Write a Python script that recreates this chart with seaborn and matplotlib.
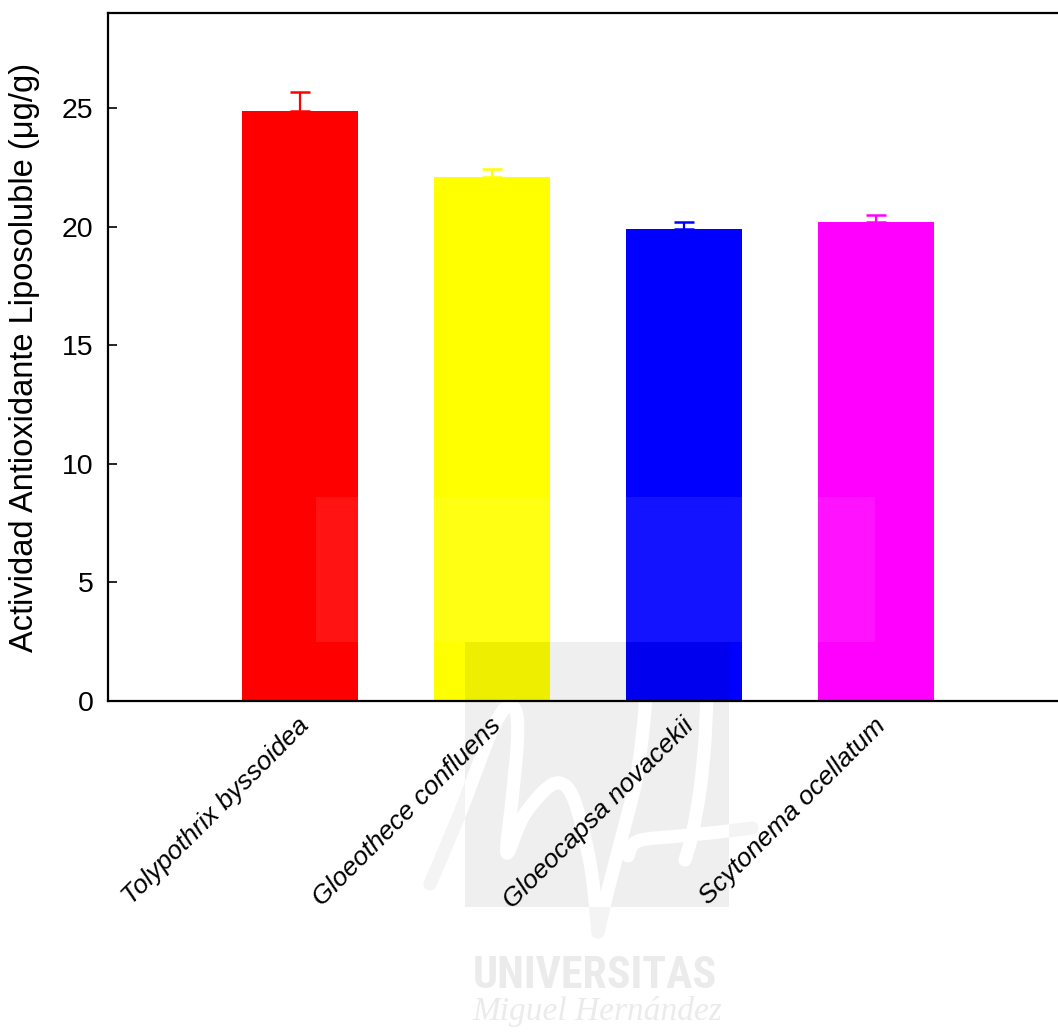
import numpy as np
import pandas as pd
import matplotlib
matplotlib.use("Agg")
import matplotlib.pyplot as plt
import matplotlib.transforms as mtransforms
from matplotlib.patches import Rectangle, PathPatch
from matplotlib.path import Path
from matplotlib import font_manager
import seaborn as sns

# Datos: actividad antioxidante liposoluble por especie (media y error superior)
especies = ["Tolypothrix byssoidea", "Gloeothece confluens",
            "Gloeocapsa novacekii", "Scytonema ocellatum"]
actividad = [24.87, 22.10, 19.88, 20.21]
error_sup = [0.80, 0.33, 0.29, 0.27]
colores = ["#ff0000", "#ffff00", "#0000ff", "#ff00ff"]
marcas_y = [0, 5, 10, 15, 20, 25]
titulo_y = "Actividad Antioxidante Liposoluble (\u03bcg/g)"

W, H = 1058, 1032

sns.set_theme(style="ticks")
plt.rcParams["font.family"] = ["Liberation Sans", "DejaVu Sans"]

fig = plt.figure(figsize=(W / 100, H / 100), dpi=100)
fig.patch.set_facecolor("white")
ax = fig.add_axes([108 / W, 1 - 701 / H, 960 / W, 688 / H])

df = pd.DataFrame({"especie": especies, "actividad": actividad})
sns.barplot(data=df, x="especie", y="actividad", hue="especie",
            palette=colores, width=0.6, saturation=1, legend=False,
            errorbar=None, linewidth=0, ax=ax)
barras = list(ax.patches)

# Barras de error (solo la parte superior)
for barra, valor, err, col in zip(barras, actividad, error_sup, colores):
    xc = barra.get_x() + barra.get_width() / 2
    ax.errorbar([xc], [valor], yerr=[[0], [err]], fmt="none", ecolor=col,
                elinewidth=1.6, capsize=7, capthick=1.8, zorder=3)

ax.set_xlim(-1, 4)
ax.set_ylim(0, 29)
ax.set_yticks(marcas_y)
ax.set_xlabel("")
ax.set_ylabel(titulo_y, fontsize=23.5, color="black")
ax.yaxis.set_label_coords(-0.071, 0.5)

ax.tick_params(axis="y", direction="in", length=6.5, width=1.2,
               labelsize=20.5, pad=10.5, colors="black")
ax.tick_params(axis="x", length=0, pad=9)
ax.set_xticks(range(len(especies)))
ax.set_xticklabels(especies, rotation=45, ha="right", rotation_mode="anchor",
                   fontstyle="italic", fontsize=19, color="black")
desplaz = mtransforms.ScaledTranslation(-3 / 100, 0, fig.dpi_scale_trans)
for et in ax.get_xticklabels():
    et.set_transform(et.get_transform() + desplaz)

for lado in ["left", "bottom", "top"]:
    ax.spines[lado].set_linewidth(1.6)
    ax.spines[lado].set_color("black")
ax.spines["right"].set_visible(False)

# Marca de agua institucional (coordenadas en píxeles de la figura)
px = mtransforms.Affine2D().scale(1 / W, -1 / H).translate(0, 1) + fig.transFigure

aclarado = Rectangle((316, 497), 559, 145, transform=px, facecolor="white",
                     alpha=0.08, edgecolor="none", zorder=1.5, clip_on=False)
ax.add_patch(aclarado)

fondo_logo = Rectangle((465, 642), 264, 265, transform=px, facecolor="#efefef",
                       edgecolor="none", zorder=0.3, clip_on=False)
ax.add_patch(fondo_logo)

for barra in barras:
    sombra = Rectangle((465, 642), 264, 265, transform=px, facecolor="black",
                       alpha=0.065, edgecolor="none", zorder=1.2)
    ax.add_patch(sombra)
    sombra.set_clip_path(barra)


def trazo_suave(puntos):
    p = np.asarray(puntos, dtype=float)
    p = np.vstack([p[0], p, p[-1]])
    verts = [tuple(p[1])]
    codes = [Path.MOVETO]
    for i in range(1, len(p) - 2):
        c1 = p[i] + (p[i + 1] - p[i - 1]) / 6
        c2 = p[i + 1] - (p[i + 2] - p[i]) / 6
        verts += [tuple(c1), tuple(c2), tuple(p[i + 1])]
        codes += [Path.CURVE4] * 3
    return Path(verts, codes)


trazos = [
    [(430, 884), (460, 813), (487, 742), (500, 715), (510, 705), (517, 716),
     (517, 748), (512, 800), (507, 853), (523, 817), (545, 790), (560, 783),
     (572, 795), (583, 830), (592, 875), (598, 932)],
    [(647, 668), (644, 720), (636, 780), (621, 840), (608, 890), (598, 932)],
    [(707, 690), (705, 740), (700, 790), (692, 835), (685, 860)],
    [(628, 856), (638, 841), (680, 836), (720, 832), (752, 828)],
]
for pts in trazos:
    camino = trazo_suave(pts)
    gris = PathPatch(camino, transform=px, facecolor="none", edgecolor="#f4f4f4",
                     linewidth=9.5, capstyle="round", joinstyle="round",
                     zorder=0.2, clip_on=False)
    ax.add_patch(gris)
    blanco = PathPatch(camino, transform=px, facecolor="none", edgecolor="white",
                       linewidth=9.5, capstyle="round", joinstyle="round",
                       zorder=0.4)
    ax.add_patch(blanco)
    blanco.set_clip_path(fondo_logo)

nombres_fuentes = {f.name for f in font_manager.fontManager.ttflist}


def primera_familia(candidatas):
    for c in candidatas:
        if c in nombres_fuentes:
            return c
    return "DejaVu Sans"


fam_sans = primera_familia(["Roboto Condensed", "Liberation Sans Narrow",
                            "Open Sans Condensed", "Roboto", "Liberation Sans"])
fam_serif = primera_familia(["Liberation Serif", "DejaVu Serif"])

renderer = fig.canvas.get_renderer()


def texto_ajustado(cadena, xc, base, ancho, alto_cap, familia, **kw):
    t = fig.text(xc / W, 1 - base / H, cadena, ha="center", va="baseline",
                 family=familia, fontsize=30, color="#ebebeb", zorder=0.1, **kw)
    bb = t.get_window_extent(renderer)
    fs_ancho = 30 * ancho / bb.width
    fs_alto = alto_cap / 0.70 * 72 / 100
    t.set_fontsize(min(fs_ancho, fs_alto))
    return t


texto_ajustado("UNIVERSITAS", 595, 988, 244, 33, fam_sans, fontweight="bold")
texto_ajustado("Miguel Hern\u00e1ndez", 597, 1020, 250, 27, fam_serif,
               fontstyle="italic")

fig.savefig("out.png", dpi=100, facecolor="white")
